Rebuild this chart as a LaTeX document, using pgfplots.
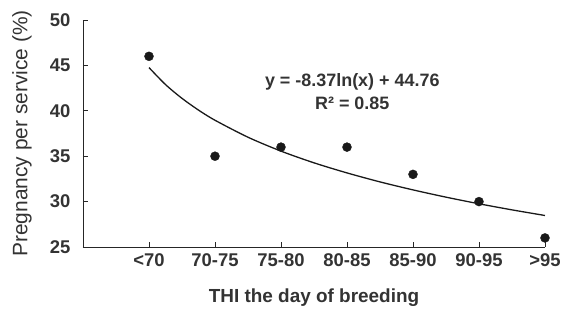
\documentclass[border=0pt]{standalone}
\usepackage{pgfplots}
\pgfplotsset{compat=1.18}
\usepackage{fontspec}
\setmainfont{Liberation Sans}
\begin{document}
\begin{tikzpicture}
\path[use as bounding box] (-83bp,-65bp) rectangle (483bp,247bp);
\begin{axis}[
  scale only axis,
  width=462bp, height=227bp,
  xmin=0, xmax=7, ymin=25, ymax=50,
  axis lines=left,
  axis line style={-, line width=1pt, black!85},
  xtick={1,2,3,4,5,6,7},
  xticklabels={<70,70-75,75-80,80-85,85-90,90-95,>95},
  ytick={25,30,35,40,45,50},
  tick align=inside,
  major tick length=5bp,
  tick style={line width=0.9pt, black!85},
  /pgf/number format/assume math mode=true,
  ticklabel style={font=\fontsize{18.5}{21}\selectfont\bfseries, text=black!80},
  xticklabel style={yshift=-3bp},
  yticklabel style={xshift=-9bp},
  ylabel={Pregnancy per service (\%)},
  xlabel={THI the day of breeding},
  ylabel style={font=\fontsize{21}{24}\selectfont, text=black!80, at={(axis description cs:-0.132,0.5)}, anchor=center, rotate=0},
  xlabel style={font=\fontsize{19}{22}\selectfont\bfseries, text=black!80, at={(axis description cs:0.5,-0.225)}, anchor=center},
  clip=false,
]
\addplot[only marks, mark=*, mark size=4.5bp, black!90] coordinates {
  (1,46) (2,35) (3,36) (4,36) (5,33) (6,30) (7,26)
};
\addplot[smooth, line width=1.3pt, black!90] coordinates {
  (1,44.76) (1.25,42.89) (1.5,41.37) (1.75,40.08) (2,38.96) (2.5,37.09) (3,35.56) (3.5,34.27) (4,33.16) (4.5,32.17) (5,31.29) (5.5,30.49) (6,29.76) (6.5,29.09) (7,28.47)
};
\node[align=center, font=\fontsize{18}{23}\selectfont\bfseries, text=black!80] at (axis cs:4.08,42.07)
  {y = -8.37ln(x) + 44.76\\R² = 0.85};
\end{axis}
\end{tikzpicture}
\end{document}
